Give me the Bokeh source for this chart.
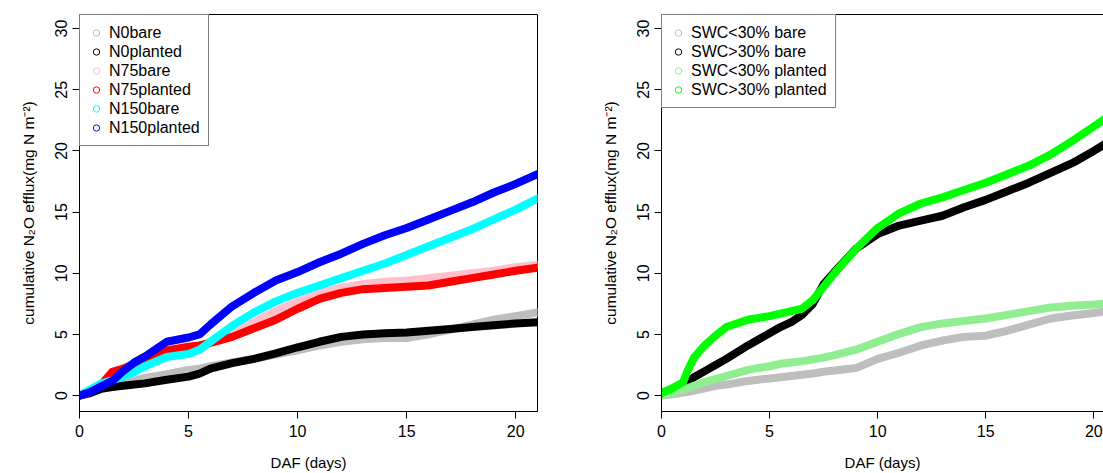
from bokeh.plotting import figure
from bokeh.layouts import row
from bokeh.models import Legend, LegendItem, LinearAxis, FixedTicker, Range1d
from bokeh.embed import file_html
from bokeh.resources import INLINE

# ---------------- data ----------------
days_left = [0, 0.5, 1, 1.5, 2, 2.5, 3, 4, 5, 5.5, 6, 7, 8, 9, 10, 11, 12, 13, 14, 15, 16, 17, 18, 19, 20, 21]
n0_bare = [0, 0.3, 0.6, 0.8, 1.0, 1.2, 1.45, 1.75, 2.1, 2.2, 2.4, 2.7, 3.0, 3.35, 3.7, 4.1, 4.4, 4.6, 4.7, 4.7, 5.0, 5.4, 5.8, 6.2, 6.5, 6.8]
n0_planted = [0, 0.2, 0.55, 0.7, 0.8, 0.9, 1.0, 1.3, 1.55, 1.8, 2.2, 2.65, 3.0, 3.45, 3.95, 4.4, 4.8, 5.0, 5.1, 5.15, 5.3, 5.45, 5.6, 5.75, 5.9, 6.0]
n75_bare = [0, 0.4, 0.8, 1.3, 1.7, 2.1, 2.6, 3.3, 3.8, 4.0, 4.4, 5.0, 6.0, 6.9, 7.7, 8.4, 8.8, 9.1, 9.3, 9.4, 9.6, 9.8, 10.0, 10.2, 10.5, 10.7]
n75_planted = [0, 0.3, 0.9, 1.95, 2.2, 2.6, 3.0, 3.7, 4.0, 4.1, 4.3, 4.8, 5.5, 6.2, 7.1, 7.9, 8.4, 8.7, 8.8, 8.9, 9.0, 9.3, 9.6, 9.9, 10.2, 10.45]
n150_bare = [0, 0.5, 1.0, 1.25, 1.55, 1.9, 2.4, 3.15, 3.4, 3.75, 4.4, 5.7, 6.8, 7.7, 8.4, 9.0, 9.6, 10.2, 10.8, 11.5, 12.2, 12.9, 13.6, 14.4, 15.2, 16.1]
n150_planted = [0, 0.3, 0.75, 1.2, 2.0, 2.7, 3.2, 4.4, 4.75, 5.0, 5.8, 7.3, 8.4, 9.4, 10.1, 10.9, 11.6, 12.4, 13.1, 13.7, 14.4, 15.1, 15.8, 16.6, 17.3, 18.1]

days_right = [0, 0.5, 1, 1.2, 1.5, 2, 2.5, 3, 4, 5, 5.5, 6, 6.5, 7, 7.5, 8, 9, 10, 11, 12, 13, 14, 15, 16, 17, 18, 19, 20, 21]
swc_lo_bare = [0.0, 0.1, 0.25, 0.3, 0.4, 0.6, 0.8, 0.9, 1.2, 1.4, 1.5, 1.6, 1.7, 1.8, 1.95, 2.05, 2.25, 3.0, 3.5, 4.1, 4.5, 4.8, 4.9, 5.3, 5.8, 6.3, 6.55, 6.75, 7.0]
swc_hi_bare = [0.2, 0.5, 0.9, 1.1, 1.5, 2.0, 2.5, 3.0, 4.1, 5.1, 5.6, 6.0, 6.6, 7.5, 9.1, 10.1, 12.0, 13.2, 13.9, 14.3, 14.7, 15.4, 16.0, 16.7, 17.4, 18.2, 19.0, 20.0, 21.1]
swc_lo_planted = [0.1, 0.2, 0.5, 0.6, 0.8, 1.1, 1.35, 1.6, 2.1, 2.4, 2.6, 2.7, 2.8, 2.95, 3.1, 3.3, 3.75, 4.4, 5.05, 5.6, 5.9, 6.1, 6.3, 6.6, 6.9, 7.2, 7.35, 7.45, 7.6]
swc_hi_planted = [0.2, 0.6, 1.1, 2.0, 3.1, 4.1, 4.9, 5.6, 6.2, 6.5, 6.7, 6.9, 7.1, 7.8, 8.9, 10.0, 12.0, 13.7, 14.9, 15.7, 16.2, 16.8, 17.4, 18.1, 18.8, 19.7, 20.8, 22.0, 23.2]

left_labels = ["N0bare", "N0planted", "N75bare", "N75planted", "N150bare", "N150planted"]
left_series = [n0_bare, n0_planted, n75_bare, n75_planted, n150_bare, n150_planted]
left_colors = ["#BEBEBE", "#000000", "#FFC0CB", "#FF0000", "#00FFFF", "#0000FF"]

right_labels = ["SWC<30% bare", "SWC>30% bare", "SWC<30% planted", "SWC>30% planted"]
right_series = [swc_lo_bare, swc_hi_bare, swc_lo_planted, swc_hi_planted]
right_colors = ["#BEBEBE", "#000000", "#90EE90", "#00FF00"]

y_ticks = [0, 5, 10, 15, 20, 25, 30]
x_ticks = [0, 5, 10, 15, 20]
FONT = "Liberation Sans"
YLABEL = "cumulative N\u2082O efflux(mg N m\u207b\u00b2)"


def style_axes(p):
    for ax in (p.xaxis[0], p.yaxis[0]):
        ax.axis_line_color = "black"
        ax.major_tick_line_color = "black"
        ax.major_tick_out = 7
        ax.major_tick_in = 0
        ax.minor_tick_line_color = None
        ax.major_label_text_font = FONT
        ax.major_label_text_font_size = "16px"
        ax.major_label_text_color = "black"
        ax.axis_label_text_font = FONT
        ax.axis_label_text_font_style = "normal"
        ax.axis_label_text_color = "black"
    p.xaxis[0].axis_label_text_font_size = "15px"
    p.yaxis[0].axis_label_text_font_size = "15.5px"
    p.xaxis[0].ticker = FixedTicker(ticks=x_ticks)
    p.yaxis[0].ticker = FixedTicker(ticks=y_ticks)
    p.xaxis[0].major_label_standoff = 6
    p.xaxis[0].axis_label_standoff = 14
    p.yaxis[0].major_label_standoff = 5
    p.yaxis[0].axis_label_standoff = 16
    p.yaxis[0].major_label_orientation = "vertical"
    p.xaxis[0].axis_label = "DAF (days)"
    p.yaxis[0].axis_label = YLABEL
    p.xgrid.grid_line_color = None
    p.ygrid.grid_line_color = None


def make_panel(width, x_end, labels, series, colors, xs, min_left, min_right, outline):
    p = figure(width=width, height=473, output_backend="svg", toolbar_location=None,
               x_range=Range1d(0, x_end), y_range=Range1d(-1.3, 31.15),
               min_border_left=min_left, min_border_right=min_right,
               min_border_top=14, min_border_bottom=62,
               background_fill_color="white", border_fill_color="white")
    p.outline_line_color = "black" if outline else None
    p.outline_line_width = 1
    style_axes(p)
    items = []
    for lab, ys, col in zip(labels, series, colors):
        p.line(xs, ys, line_color=col, line_width=8, line_join="round", line_cap="round")
        r = p.scatter(xs, ys, marker="circle", size=6, fill_color=None,
                      line_color=col, line_width=1)
        items.append(LegendItem(label=lab, renderers=[r]))
    leg = Legend(items=items, location="top_left", margin=0, padding=8,
                 spacing=0, glyph_width=16, glyph_height=19, label_height=19,
                 label_standoff=5, label_text_font=FONT, label_text_font_size="16px",
                 label_text_color="black", border_line_color="black",
                 border_line_width=1, background_fill_color="white",
                 background_fill_alpha=1.0)
    p.add_layout(leg, "center")
    return p


p1 = make_panel(598, 21, left_labels, left_series, left_colors, days_left, 79, 61, True)
p2 = make_panel(505, 20.45, right_labels, right_series, right_colors, days_right, 59, 0, False)
# top frame line for the right (cropped) panel
top = LinearAxis(ticker=FixedTicker(ticks=[]), axis_line_color="black",
                 major_tick_out=0, major_tick_in=0, minor_tick_line_color=None,
                 major_label_text_font_size="0px", major_label_standoff=0)
p2.add_layout(top, "above")

layout = row(p1, p2)
open("out.html", "w").write(file_html(layout, INLINE))
